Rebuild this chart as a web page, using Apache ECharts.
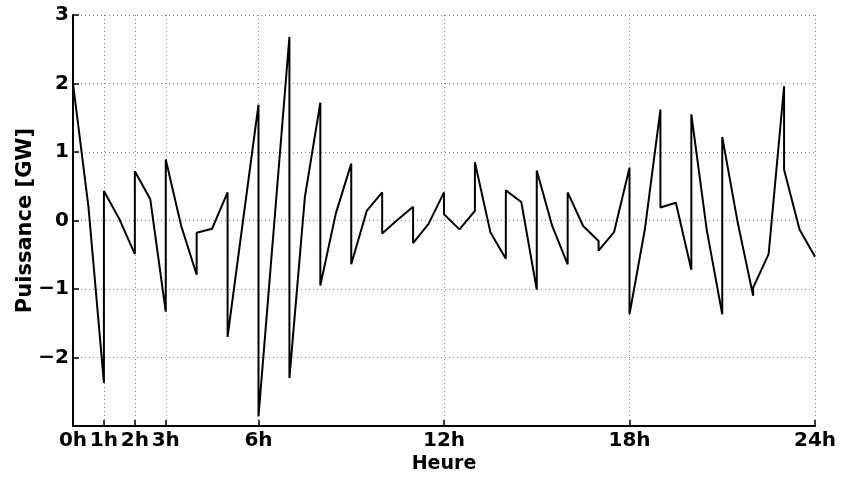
<!DOCTYPE html>
<html>
<head>
<meta charset="utf-8">
<script src="https://cdn.jsdelivr.net/npm/echarts@6/dist/echarts.min.js"></script>
<style>
html,body{margin:0;padding:0;background:#fff;}
#chart{width:843px;height:484px;}
</style>
</head>
<body>
<div id="chart"></div>
<script>
// Hourly segments: value at start of hour, at half hour, and at end of hour (GW)
const segStart = [2.00, 0.43, 0.72, 0.89, -0.18, -1.70, -2.86, -2.30, -0.95, -0.64, -0.19, -0.33,
                  0.09, 0.85, 0.44, 0.73, 0.41, -0.44, -1.37, 0.19, 1.55, 1.22, -0.98, 0.74];
const segMid   = [0.20, 0.02, 0.31, -0.08, -0.12, 0.00, -0.09, 0.34, 0.10, 0.14, 0.01, -0.05,
                  -0.13, -0.17, 0.27, -0.08, -0.08, -0.17, -0.12, 0.26, -0.14, -0.03, -0.49, -0.13];
const segEnd   = [-2.37, -0.49, -1.33, -0.79, 0.41, 1.69, 2.68, 1.72, 0.83, 0.41, 0.20, 0.41,
                  0.14, -0.56, -1.01, -0.64, -0.30, 0.77, 1.62, -0.72, -1.37, -1.10, 1.96, -0.53];
const xTicks = [0, 1, 2, 3, 6, 12, 18, 24];
const yTicks = [-2, -1, 0, 1, 2, 3];

const points = [];
for (let h = 0; h < segStart.length; h++) {
  points.push([h, segStart[h]]);
  points.push([h + 0.5, segMid[h]]);
  points.push([h + 1, segEnd[h]]);
}

const fontFam = '"DejaVu Sans", "Liberation Sans", Arial, sans-serif';
const chart = echarts.init(document.getElementById('chart'), null, {renderer: 'canvas'});
chart.setOption({
  animation: false,
  backgroundColor: '#ffffff',
  grid: {left: 73, right: 28, top: 15, bottom: 58, containLabel: false},
  xAxis: {
    type: 'value', min: 0, max: 24,
    name: 'Heure', nameLocation: 'middle', nameGap: 29, nameMoveOverlap: false,
    nameTextStyle: {color: '#000', fontFamily: fontFam, fontWeight: 'bold', fontSize: 19},
    axisLine: {show: true, onZero: false, lineStyle: {color: '#000', width: 2}},
    axisTick: {show: true, inside: true, length: 6, customValues: xTicks, lineStyle: {color: '#000', width: 1.5}},
    axisLabel: {customValues: xTicks, color: '#000', fontFamily: fontFam, fontWeight: 'bold', fontSize: 20, margin: 5,
      formatter: v => v + 'h'},
    splitLine: {show: true, lineStyle: {color: '#888', type: [1, 3], width: 1}}
  },
  yAxis: {
    type: 'value', min: -3, max: 3, interval: 1,
    name: 'Puissance [GW]', nameLocation: 'middle', nameGap: 37, nameMoveOverlap: false,
    nameTextStyle: {color: '#000', fontFamily: fontFam, fontWeight: 'bold', fontSize: 21},
    axisLine: {show: true, onZero: false, lineStyle: {color: '#000', width: 2}},
    axisTick: {show: true, inside: true, length: 6, lineStyle: {color: '#000', width: 1.5}},
    axisLabel: {color: '#000', fontFamily: fontFam, fontWeight: 'bold', fontSize: 20, margin: 4,
      formatter: v => (yTicks.indexOf(v) < 0 ? '' : (v < 0 ? '\u2212' + Math.abs(v) : String(v)))},
    splitLine: {show: true, lineStyle: {color: '#888', type: [1, 3], width: 1}}
  },
  series: [{
    type: 'line', data: points, showSymbol: false, symbol: 'none',
    lineStyle: {color: '#000', width: 2}, z: 3
  }]
});
</script>
</body>
</html>
